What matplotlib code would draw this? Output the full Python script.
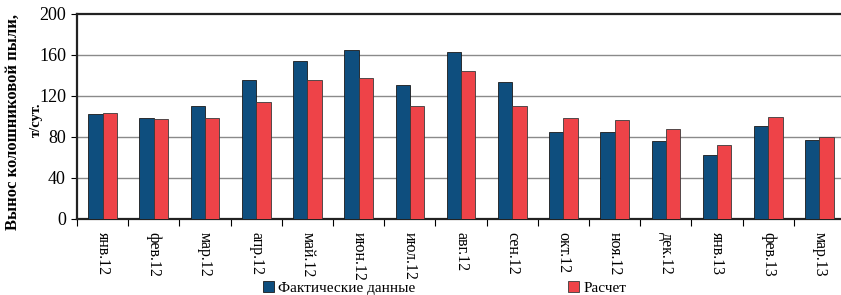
import matplotlib
matplotlib.use("Agg")
import matplotlib.pyplot as plt
import numpy as np

categories = ["янв.12", "фев.12", "мар.12", "апр.12", "май.12", "июн.12", "июл.12",
              "авг.12", "сен.12", "окт.12", "ноя.12", "дек.12", "янв.13", "фев.13", "мар.13"]
actual = [102, 98.5, 109.5, 135, 154, 165, 130, 163, 133, 85, 85, 76, 62, 90, 77]
calc = [103, 97, 98, 114, 135, 137, 110, 144, 110, 98, 96, 88, 72, 99, 80]
yticks = [0, 40, 80, 120, 160, 200]

plt.rcParams['font.family'] = ['Liberation Serif', 'DejaVu Serif']

fig = plt.figure(figsize=(8.41, 2.95), dpi=100)
ax = fig.add_axes([0.0916, 0.2586, 0.9132, 0.695])

x = np.arange(len(categories))
w = 0.28
blue = "#0E4E7E"
red = "#EE4348"
ax.bar(x - w/2, actual, w, color=blue, edgecolor="#1a1a1a", linewidth=0.6,
       label="Фактические данные", zorder=3)
ax.bar(x + w/2, calc, w, color=red, edgecolor="#3a3a3a", linewidth=0.6,
       label="Расчет", zorder=3)

ax.set_xlim(-0.5, len(categories) - 0.5)
ax.set_ylim(0, 200)
ax.set_yticks(yticks)
ax.tick_params(axis='y', labelsize=13, length=4, width=0.8, direction='out', pad=4)
for v in yticks[1:-1]:
    ax.axhline(v, color="#8a8a8a", linewidth=1.0, zorder=1)

ax.set_xticks(x)
ax.set_xticklabels(categories, rotation=270, fontsize=11.5)
ax.tick_params(axis='x', length=0, pad=9.5)
ax.set_xticks(np.arange(-0.5, len(categories), 1), minor=True)
ax.tick_params(axis='x', which='minor', length=5, width=0.8, direction='out')

for s in ['left', 'bottom', 'top']:
    ax.spines[s].set_linewidth(1.6)
    ax.spines[s].set_color("#222222")
ax.spines['right'].set_visible(False)

fig.text(13 / 841, 1 - 122 / 295, "Вынос колошниковой пыли,", fontsize=12,
         fontweight='bold', rotation=90, ha='center', va='center')
fig.text(36 / 841, 1 - 120 / 295, "т/сут.", fontsize=10.5,
         fontweight='bold', rotation=90, ha='center', va='center')

leg = fig.legend(loc='center', bbox_to_anchor=(0.529, 1 - 288 / 295), ncol=2, frameon=False,
                 prop={'family': ['Liberation Serif'], 'size': 11},
                 handlelength=0.7, handleheight=0.7, handletextpad=0.3,
                 columnspacing=10, borderpad=0)

fig.savefig("out.png", dpi=100)
